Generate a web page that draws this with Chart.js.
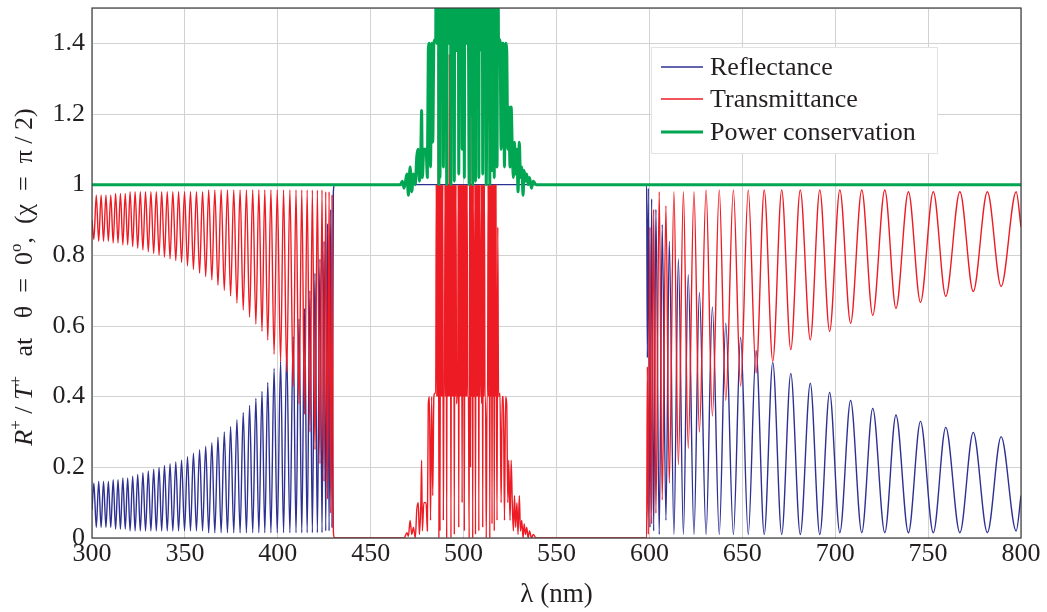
<!DOCTYPE html>
<html>
<head>
<meta charset="utf-8">
<title>Reflectance / Transmittance</title>
<script src="https://cdn.jsdelivr.net/npm/chart.js@4.4.0/dist/chart.umd.min.js"></script>
<style>
    html, body { margin: 0; padding: 0; background: #fff; }
    #wrap { width: 1047px; height: 612px; }
</style>
</head>
<body>
<div id="wrap"><canvas id="rtChart" width="1047" height="612"></canvas></div>
<script>
// values, [wavelength nm, value]

// reflectance, short-wavelength side (alternating troughs / peaks)
const reflectanceLeft = [
    [300.0, 0.08], [301.0, 0.155], [302.3, 0.03], [303.6, 0.16], [304.9, 0.03], [306.2, 0.16],
    [307.5, 0.03], [308.8, 0.16], [310.1, 0.03], [311.4, 0.165], [312.7, 0.025], [314.0, 0.165],
    [315.3, 0.025], [316.6, 0.17], [317.9, 0.025], [319.2, 0.17], [320.5, 0.02], [321.9, 0.175],
    [323.2, 0.02], [324.6, 0.18], [326.0, 0.02], [327.4, 0.185], [328.8, 0.02], [330.3, 0.19],
    [331.7, 0.02], [333.2, 0.195], [334.6, 0.02], [336.1, 0.20], [337.5, 0.02], [339.0, 0.205],
    [340.5, 0.02], [342.0, 0.21], [343.5, 0.02], [345.1, 0.215], [346.6, 0.02], [348.2, 0.22],
    [349.8, 0.02], [351.4, 0.23], [353.0, 0.02], [354.6, 0.24], [356.2, 0.02], [357.9, 0.25],
    [359.5, 0.02], [361.2, 0.26], [362.8, 0.015], [364.5, 0.27], [366.1, 0.015], [367.8, 0.285],
    [369.5, 0.015], [371.2, 0.30], [372.9, 0.015], [374.6, 0.315], [376.3, 0.015], [378.0, 0.335],
    [379.7, 0.015], [381.4, 0.355], [383.1, 0.015], [384.8, 0.375], [386.5, 0.015], [388.2, 0.395],
    [389.8, 0.015], [391.5, 0.415], [393.0, 0.015], [394.6, 0.44], [396.3, 0.015], [398.0, 0.48],
    [399.7, 0.015], [401.5, 0.50], [403.1, 0.015], [404.8, 0.53], [406.5, 0.015], [408.3, 0.57],
    [409.8, 0.015], [411.4, 0.62], [412.9, 0.015], [414.4, 0.65], [415.8, 0.015], [417.3, 0.70],
    [418.6, 0.015], [420.0, 0.75], [421.3, 0.015], [422.7, 0.79], [423.8, 0.015], [424.9, 0.84],
    [425.8, 0.02], [426.8, 0.89], [427.6, 0.02], [428.5, 0.93], [429.2, 0.03], [429.9, 0.98],
    [430.5, 1.0]
];

// reflectance, long-wavelength side
const reflectanceRight = [
    [598.5, 1.0], [598.9, 0.51], [599.4, 0.99], [600.3, 0.03], [601.2, 0.96], [602.3, 0.02],
    [603.5, 0.93], [605.3, 0.01], [606.9, 0.887], [608.9, 0.05], [610.7, 0.84], [613.2, 0.01],
    [615.6, 0.79], [618.3, 0.01], [620.9, 0.745], [624.0, 0.01], [626.9, 0.695], [630.5, 0.01],
    [633.9, 0.654], [637.6, 0.01], [641.1, 0.608], [645.2, 0.01], [649.1, 0.568], [653.2, 0.01],
    [657.4, 0.531], [661.8, 0.01], [666.4, 0.497], [671.2, 0.01], [676.1, 0.466], [681.2, 0.01],
    [686.6, 0.438], [691.7, 0.01], [697.0, 0.412], [702.5, 0.015], [708.3, 0.389], [714.3, 0.015],
    [720.2, 0.367], [726.7, 0.015], [732.7, 0.348], [739.4, 0.015], [745.9, 0.330], [752.8, 0.015],
    [759.5, 0.313], [767.1, 0.015], [774.3, 0.299], [781.9, 0.015], [789.3, 0.287], [797.4, 0.02],
    [800.0, 0.12]
];

const transmittanceLeft = [
    [300.0, 0.90], [301.0, 0.845], [302.3, 0.97], [303.6, 0.84], [304.9, 0.97], [306.2, 0.84],
    [307.5, 0.97], [308.8, 0.84], [310.1, 0.97], [311.4, 0.835], [312.7, 0.975], [314.0, 0.835],
    [315.3, 0.975], [316.6, 0.83], [317.9, 0.975], [319.2, 0.83], [320.5, 0.98], [321.9, 0.825],
    [323.2, 0.98], [324.6, 0.82], [326.0, 0.98], [327.4, 0.815], [328.8, 0.98], [330.3, 0.81],
    [331.7, 0.98], [333.2, 0.805], [334.6, 0.98], [336.1, 0.80], [337.5, 0.98], [339.0, 0.795],
    [340.5, 0.98], [342.0, 0.79], [343.5, 0.98], [345.1, 0.785], [346.6, 0.98], [348.2, 0.78],
    [349.8, 0.98], [351.4, 0.77], [353.0, 0.98], [354.6, 0.76], [356.2, 0.98], [357.9, 0.75],
    [359.5, 0.98], [361.2, 0.74], [362.8, 0.985], [364.5, 0.73], [366.1, 0.985], [367.8, 0.715],
    [369.5, 0.985], [371.2, 0.70], [372.9, 0.985], [374.6, 0.685], [376.3, 0.985], [378.0, 0.665],
    [379.7, 0.985], [381.4, 0.645], [383.1, 0.985], [384.8, 0.625], [386.5, 0.985], [388.2, 0.605],
    [389.8, 0.985], [391.5, 0.585], [393.0, 0.985], [394.6, 0.56], [396.3, 0.985], [398.0, 0.52],
    [399.7, 0.985], [401.5, 0.50], [403.1, 0.985], [404.8, 0.47], [406.5, 0.985], [408.3, 0.43],
    [409.8, 0.985], [411.4, 0.38], [412.9, 0.985], [414.4, 0.35], [415.8, 0.985], [417.3, 0.30],
    [418.6, 0.985], [420.0, 0.25], [421.3, 0.985], [422.7, 0.21], [423.8, 0.985], [424.9, 0.16],
    [425.8, 0.98], [426.8, 0.11], [427.6, 0.98], [428.5, 0.07], [429.2, 0.97], [429.9, 0.02],
    [430.5, 0.0]
];

// band-gap region: transmittance spikes
const transmittanceMid = [
    [468.0, 0.0], [469.5, 0.015], [470.3, 0.005], [471.2, 0.05], [472.1, 0.01], [473.0, 0.03],
    [474.0, 0.0], [474.8, 0.08], [475.6, 0.10], [476.2, 0.01], [477.0, 0.1], [477.4, 0.22],
    [477.8, 0.02], [478.6, 0.1], [479.8, 0.10], [480.5, 0.02], [481.0, 0.38], [481.6, 0.40],
    [482.2, 0.05], [482.8, 0.40], [483.4, 0.12], [484.0, 0.40], [484.6, 0.41],
    [485.0, 0.41], [485.3, 1.0], [485.6, 0.40], [485.9, 1.0], [486.2, 0.4], [486.4, 1.38],
    [486.7, 0.0], [487.0, 1.0], [487.3, 0.02], [487.6, 1.0], [487.9, 0.4], [488.2, 1.0],
    [488.5, 0.4], [488.8, 1.0], [489.1, 0.05], [489.4, 0.4], [489.7, 0.4], [490.0, 1.0],
    [490.3, 0.4], [490.6, 1.0], [490.9, 0.0], [491.2, 1.0], [491.5, 0.4], [491.8, 1.0],
    [492.1, 0.4], [492.3, 1.37], [492.6, 0.4], [492.9, 1.0], [493.2, 0.0], [493.5, 1.0],
    [493.8, 0.4], [494.1, 1.0], [494.4, 0.4], [494.7, 1.0], [495.0, 0.01], [495.3, 1.0],
    [495.6, 0.4], [495.9, 1.0], [496.2, 0.38], [496.5, 0.4], [496.8, 0.4], [497.1, 1.0],
    [497.4, 0.03], [497.7, 1.0], [498.0, 0.4], [498.3, 1.0], [498.6, 0.4], [498.9, 1.0],
    [499.2, 0.1], [499.5, 1.0], [499.8, 0.4], [500.1, 1.0], [500.4, 0.02], [500.7, 1.0],
    [501.0, 0.4], [501.3, 1.0], [501.6, 0.4], [501.9, 1.0], [502.2, 0.4], [502.6, 0.4],
    [503.0, 0.0], [503.4, 1.35], [503.7, 0.2], [504.0, 1.0], [504.3, 0.4], [504.6, 1.0],
    [504.9, 0.0], [505.2, 1.0], [505.5, 0.4], [505.8, 0.4], [506.1, 1.0], [506.4, 0.01],
    [506.7, 1.0], [507.0, 0.4], [507.3, 1.0], [507.6, 0.4], [507.9, 1.0], [508.2, 0.02],
    [508.5, 1.0], [508.8, 0.4], [509.1, 0.4], [509.4, 1.0], [509.7, 0.38], [510.0, 1.0],
    [510.3, 0.03], [510.6, 1.0], [510.9, 0.4], [511.2, 1.0], [511.5, 0.4], [511.8, 0.4],
    [512.2, 0.0], [512.6, 0.4], [512.9, 0.4], [513.2, 1.0], [513.5, 0.4], [513.8, 1.0],
    [514.1, 0.0], [514.4, 1.0], [514.7, 0.4], [515.0, 1.0], [515.3, 0.04], [515.6, 1.0],
    [515.9, 0.4], [516.2, 1.0], [516.5, 0.02], [516.8, 1.0], [517.1, 0.4], [517.4, 1.0],
    [517.7, 0.4], [518.0, 0.05], [518.4, 0.88], [518.8, 0.4], [519.6, 0.41], [520.2, 0.1],
    [520.8, 0.40], [521.4, 0.40], [522.0, 0.05], [522.6, 0.40], [523.2, 0.38], [523.8, 0.1],
    [524.3, 0.22], [525.0, 0.05], [525.6, 0.22], [526.2, 0.1], [526.8, 0.02], [527.4, 0.12],
    [528.0, 0.03], [528.7, 0.10], [529.3, 0.01], [530.0, 0.12], [530.6, 0.02], [531.3, 0.05],
    [532.0, 0.0], [532.6, 0.04], [533.3, 0.01], [534.0, 0.03], [534.7, 0.0], [535.5, 0.02],
    [536.5, 0.0], [537.5, 0.01], [539.0, 0.0]
];

const transmittanceRight = [
    [598.5, 0.0], [598.9, 0.485], [599.4, 0.01], [600.3, 0.88], [601.2, 0.04], [602.3, 0.93],
    [603.5, 0.07], [605.3, 0.98], [606.9, 0.108], [608.9, 0.94], [610.7, 0.155], [613.2, 0.98],
    [615.6, 0.207], [618.3, 0.98], [620.9, 0.254], [624.0, 0.98], [626.9, 0.30], [630.5, 0.985],
    [633.9, 0.345], [637.6, 0.985], [641.1, 0.39], [645.2, 0.985], [649.1, 0.43], [653.2, 0.985],
    [657.4, 0.467], [661.8, 0.985], [666.4, 0.50], [671.2, 0.985], [676.1, 0.533], [681.2, 0.985],
    [686.6, 0.561], [691.7, 0.985], [697.0, 0.585], [702.5, 0.985], [708.3, 0.608], [714.3, 0.985],
    [720.2, 0.63], [726.7, 0.985], [732.7, 0.65], [739.4, 0.98], [745.9, 0.667], [752.8, 0.98],
    [759.5, 0.684], [767.1, 0.98], [774.3, 0.698], [781.9, 0.98], [789.3, 0.712], [797.4, 0.98],
    [800.0, 0.88]
];

// power conservation (R + T): flat at 1 except inside the gap, clipped above 1.5
const powerMid = [
    [466.0, 1.0], [467.0, 1.01], [468.0, 0.99], [469.5, 1.03], [470.3, 0.97], [471.2, 1.05],
    [472.1, 0.98], [473.0, 1.03], [474.0, 1.0], [474.8, 1.08], [475.6, 1.10], [476.2, 1.01],
    [477.0, 1.1], [477.4, 1.21], [477.8, 1.02], [478.6, 1.1], [479.8, 1.10], [480.5, 1.02],
    [481.0, 1.38], [481.6, 1.40], [482.2, 1.05], [482.8, 1.40], [483.4, 1.12], [484.0, 1.40],
    [484.6, 1.41], [485.0, 1.41], [485.3, 2.0], [485.6, 1.40], [485.9, 2.0], [486.2, 1.4],
    [486.4, 2.38], [486.7, 1.0], [487.0, 2.0], [487.3, 1.02], [487.6, 2.0], [487.9, 1.4],
    [488.2, 2.0], [488.5, 1.4], [488.8, 2.0], [489.1, 1.05], [489.4, 1.4], [489.7, 1.4],
    [490.0, 2.0], [490.3, 1.4], [490.6, 2.0], [490.9, 1.0], [491.2, 2.0], [491.5, 1.4],
    [491.8, 2.0], [492.1, 1.4], [492.3, 2.37], [492.6, 1.4], [492.9, 2.0], [493.2, 1.0],
    [493.5, 2.0], [493.8, 1.4], [494.1, 2.0], [494.4, 1.4], [494.7, 2.0], [495.0, 1.01],
    [495.3, 2.0], [495.6, 1.4], [495.9, 2.0], [496.2, 1.38], [496.5, 1.4], [496.8, 1.4],
    [497.1, 2.0], [497.4, 1.03], [497.7, 2.0], [498.0, 1.4], [498.3, 2.0], [498.6, 1.4],
    [498.9, 2.0], [499.2, 1.1], [499.5, 2.0], [499.8, 1.4], [500.1, 2.0], [500.4, 1.02],
    [500.7, 2.0], [501.0, 1.4], [501.3, 2.0], [501.6, 1.4], [501.9, 2.0], [502.2, 1.4],
    [502.6, 1.4], [503.0, 1.0], [503.4, 2.35], [503.7, 1.2], [504.0, 2.0], [504.3, 1.4],
    [504.6, 2.0], [504.9, 1.0], [505.2, 2.0], [505.5, 1.4], [505.8, 1.4], [506.1, 2.0],
    [506.4, 1.01], [506.7, 2.0], [507.0, 1.4], [507.3, 2.0], [507.6, 1.4], [507.9, 2.0],
    [508.2, 1.02], [508.5, 2.0], [508.8, 1.4], [509.1, 1.4], [509.4, 2.0], [509.7, 1.38],
    [510.0, 2.0], [510.3, 1.03], [510.6, 2.0], [510.9, 1.4], [511.2, 2.0], [511.5, 1.4],
    [511.8, 1.4], [512.2, 1.0], [512.6, 1.4], [512.9, 1.4], [513.2, 2.0], [513.5, 1.4],
    [513.8, 2.0], [514.1, 1.0], [514.4, 2.0], [514.7, 1.4], [515.0, 2.0], [515.3, 1.04],
    [515.6, 2.0], [515.9, 1.4], [516.2, 2.0], [516.5, 1.02], [516.8, 2.0], [517.1, 1.4],
    [517.4, 2.0], [517.7, 1.4], [518.0, 1.05], [518.4, 1.88], [518.8, 1.4], [519.6, 1.41],
    [520.2, 1.1], [520.8, 1.40], [521.4, 1.40], [522.0, 1.05], [522.6, 1.40], [523.2, 1.38],
    [523.8, 1.1], [524.3, 1.22], [525.0, 1.05], [525.6, 1.22], [526.2, 1.1], [526.8, 1.02],
    [527.4, 1.12], [528.0, 1.03], [528.7, 1.10], [529.3, 0.98], [530.0, 1.12], [530.6, 1.02],
    [531.3, 1.05], [532.0, 0.97], [532.6, 1.04], [533.3, 1.01], [534.0, 1.03], [534.7, 1.0],
    [535.5, 1.02], [536.5, 0.99], [537.5, 1.01], [539.0, 1.0]
];

const seriesLabels = ['Reflectance', 'Transmittance', 'Power conservation'];
const seriesColors = ['#2e3192', '#ed1c24', '#00a651'];

function toPoints(pairs) {
    return pairs.map(p => ({ x: p[0], y: p[1] }));
}

const reflectance = toPoints([].concat(reflectanceLeft, [[598.0, 1.0]], reflectanceRight));
const transmittance = toPoints([].concat(transmittanceLeft, [[467.0, 0.0]], transmittanceMid, [[598.0, 0.0]], transmittanceRight));
const power = toPoints([].concat([[300.0, 1.0]], powerMid, [[800.0, 1.0]]));

const serif = "'Liberation Serif', 'DejaVu Serif', serif";
const inkColor = '#231f20';

// frame round the plot area
const framePlugin = {
    id: 'frame',
    afterDatasetsDraw(chart) {
        const { ctx, chartArea: a } = chart;
        ctx.save();
        ctx.strokeStyle = '#3c3c3c';
        ctx.lineWidth = 1.2;
        ctx.strokeRect(a.left, a.top, a.right - a.left, a.bottom - a.top);
        ctx.restore();
    }
};

// boxed legend sitting inside the plot, top right
const boxLegend = {
    id: 'boxLegend',
    afterDraw(chart) {
        const ctx = chart.ctx;
        const rows = [67, 99, 132];
        ctx.save();
        ctx.fillStyle = '#ffffff';
        ctx.fillRect(651, 47, 286, 106);
        ctx.strokeStyle = '#e2e2e2';
        ctx.lineWidth = 1;
        ctx.strokeRect(651.5, 47.5, 286, 106);
        chart.data.datasets.forEach((ds, i) => {
            ctx.strokeStyle = ds.borderColor;
            ctx.lineWidth = i === 2 ? 3 : 1.4;
            ctx.beginPath();
            ctx.moveTo(661, rows[i]);
            ctx.lineTo(703, rows[i]);
            ctx.stroke();
            ctx.fillStyle = inkColor;
            ctx.font = '26px ' + serif;
            ctx.textBaseline = 'middle';
            ctx.fillText(ds.label, 710, rows[i] + 1);
        });
        ctx.restore();
    }
};

// rotated y title with italic R / T and superscripts
const yTitle = {
    id: 'yTitle',
    afterDraw(chart) {
        const ctx = chart.ctx;
        const parts = [
            { t: 'R', f: 'italic 26px ' + serif, dy: 0 },
            { t: '+', f: '17px ' + serif, dy: -11 },
            { t: ' / ', f: '26px ' + serif, dy: 0 },
            { t: 'T', f: 'italic 26px ' + serif, dy: 0 },
            { t: '+', f: '17px ' + serif, dy: -11 },
            { t: '   at   \u03b8  =  0', f: '26px ' + serif, dy: 0 },
            { t: 'o', f: '17px ' + serif, dy: -11 },
            { t: ',  (\u03c7  =  \u03c0 / 2)', f: '26px ' + serif, dy: 0 }
        ];
        let total = 0;
        parts.forEach(p => { ctx.font = p.f; p.w = ctx.measureText(p.t).width; total += p.w; });
        ctx.save();
        ctx.translate(32, 277);
        ctx.rotate(-Math.PI / 2);
        ctx.fillStyle = inkColor;
        ctx.textBaseline = 'alphabetic';
        let x = -total / 2;
        parts.forEach(p => {
            ctx.font = p.f;
            ctx.fillText(p.t, x, p.dy);
            x += p.w;
        });
        ctx.restore();
    }
};

const ctx = document.getElementById('rtChart').getContext('2d');
const rtChart = new Chart(ctx, {
    type: 'line',
    data: {
        datasets: [
            {
                label: seriesLabels[0],
                data: reflectance,
                borderColor: seriesColors[0],
                borderWidth: 1.4,
                order: 3
            },
            {
                label: seriesLabels[1],
                data: transmittance,
                borderColor: seriesColors[1],
                borderWidth: 1.4,
                order: 2
            },
            {
                label: seriesLabels[2],
                data: power,
                borderColor: seriesColors[2],
                borderWidth: 3,
                order: 1
            }
        ]
    },
    options: {
        responsive: false,
        animation: false,
        parsing: false,
        normalized: true,
        elements: {
            point: { radius: 0 },
            line: { cubicInterpolationMode: 'monotone', fill: false, borderJoinStyle: 'round' }
        },
        layout: { padding: { top: 8, right: 26, left: 0, bottom: 0 } },
        plugins: {
            legend: { display: false },
            tooltip: { enabled: false }
        },
        scales: {
            x: {
                type: 'linear',
                min: 300,
                max: 800,
                afterFit: function (scale) {
                    scale.height = 74;
                    scale.paddingLeft = 0;
                    scale.paddingRight = 0;
                },
                ticks: {
                    stepSize: 50,
                    padding: 1,
                    color: inkColor,
                    font: { family: serif, size: 26 },
                    maxRotation: 0
                },
                grid: { color: '#d2d2d2', lineWidth: 1, drawTicks: false },
                border: { display: false },
                title: {
                    display: true,
                    text: '\u03bb (nm)',
                    color: inkColor,
                    font: { family: serif, size: 27 },
                    padding: { top: 0, bottom: 1 }
                }
            },
            y: {
                min: 0,
                max: 1.5,
                afterFit: function (scale) {
                    scale.width = 92;
                    scale.paddingTop = 0;
                    scale.paddingBottom = 0;
                },
                ticks: {
                    stepSize: 0.2,
                    padding: 7,
                    color: inkColor,
                    font: { family: serif, size: 26 },
                    callback: function (v) {
                        if (Math.abs(v - 1.5) < 1e-6) return '';
                        return String(Math.round(v * 10) / 10);
                    }
                },
                grid: { color: '#d2d2d2', lineWidth: 1, drawTicks: false },
                border: { display: false }
            }
        }
    },
    plugins: [framePlugin, boxLegend, yTitle]
});
</script>
</body>
</html>
